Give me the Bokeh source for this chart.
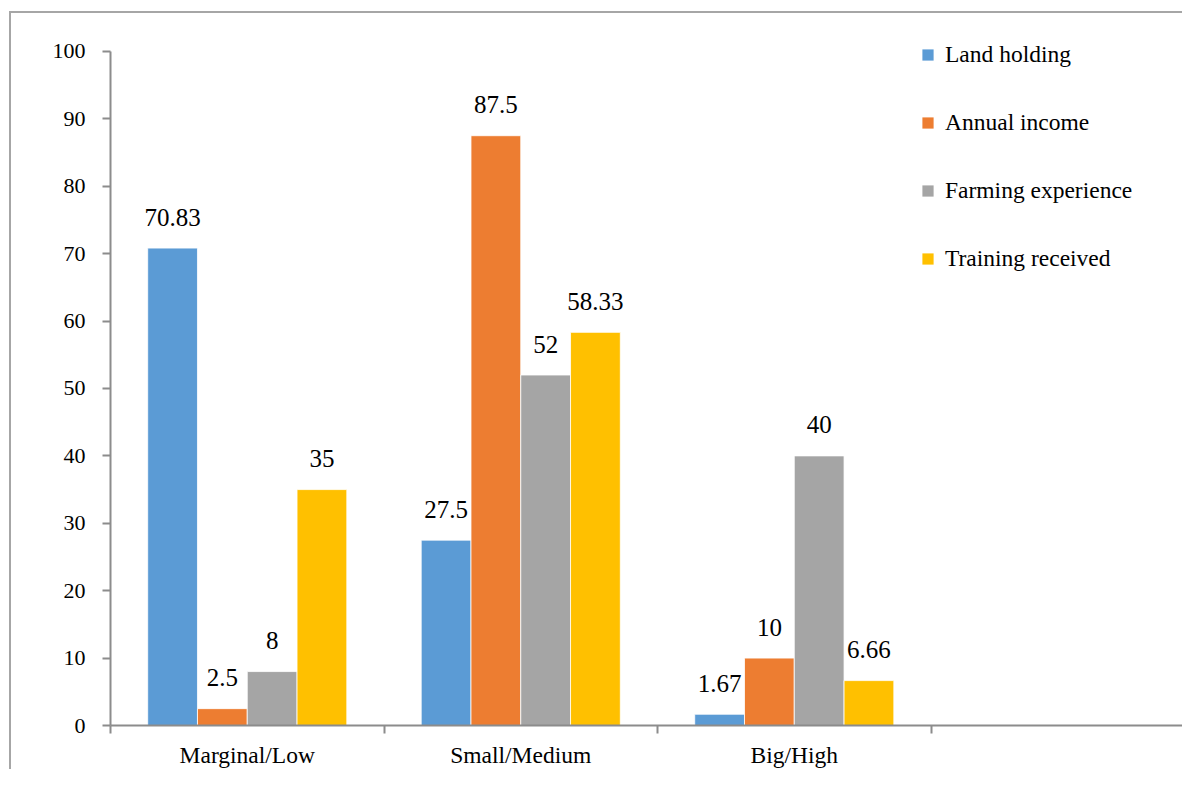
from bokeh.plotting import figure
from bokeh.models import ColumnDataSource, FixedTicker, Legend, LegendItem, Range1d
from bokeh.transform import dodge
from bokeh.embed import file_html
from bokeh.resources import INLINE

categories = ["Marginal/Low", "Small/Medium", "Big/High"]
series_names = ["Land holding", "Annual income", "Farming experience", "Training received"]
land_holding = [70.83, 27.5, 1.67]
annual_income = [2.5, 87.5, 10]
farming_experience = [8, 52, 40]
training_received = [35, 58.33, 6.66]
y_ticks = list(range(0, 101, 10))

series_values = [land_holding, annual_income, farming_experience, training_received]
colors = ["#5B9BD5", "#ED7D31", "#A5A5A5", "#FFC000"]
FONT = "'Liberation Serif', 'Times New Roman', serif"
AXIS_COLOR = "#8c8c8c"

W, H = 1173, 758
n_slots = 1072 / 273.0
p = figure(width=W, height=H,
           x_range=Range1d(0.5, 0.5 + n_slots), y_range=Range1d(0, 104),
           output_backend="svg", toolbar_location=None,
           min_border_left=99, min_border_right=0, min_border_top=11, min_border_bottom=46)
p.margin = (11, 0, 0, 9)
p.styles = {"border-top": "2px solid #a6a6a6", "border-left": "2px solid #a6a6a6"}
p.outline_line_color = None
p.xgrid.visible = False
p.ygrid.visible = False
p.background_fill_color = "white"
p.border_fill_color = "white"

cat_x = [i + 1 for i in range(len(categories))]
bar_w = 0.182
offsets = [(-1.5 + k) * bar_w for k in range(4)]

renderers = []
for k, (name, vals, col) in enumerate(zip(series_names, series_values, colors)):
    src = ColumnDataSource(dict(x=cat_x, v=vals, lab=[f"{v:g}" for v in vals]))
    r = p.vbar(x=dodge("x", offsets[k]), top="v", bottom=0, width=bar_w, source=src,
               fill_color=col, line_color="white", line_width=0.8)
    renderers.append(r)
    p.text(x=dodge("x", offsets[k]), y="v", text="lab", source=src,
           text_align="center", text_baseline="alphabetic", y_offset=-31,
           text_font=FONT, text_font_size="25px", text_color="black")

# x axis
xa = p.xaxis[0]
xa.ticker = FixedTicker(ticks=cat_x, minor_ticks=[c - 0.5 for c in cat_x] + [cat_x[-1] + 0.5])
xa.major_label_overrides = {c: lab for c, lab in zip(cat_x, categories)}
xa.major_tick_out = 0
xa.major_tick_in = 0
xa.minor_tick_out = 8
xa.minor_tick_in = 0
xa.minor_tick_line_color = AXIS_COLOR
xa.minor_tick_line_width = 2
xa.axis_line_color = AXIS_COLOR
xa.axis_line_width = 2
xa.major_label_text_font = FONT
xa.major_label_text_font_size = "23.5px"
xa.major_label_text_color = "black"
xa.major_label_standoff = 8

# y axis
ya = p.yaxis[0]
ya.ticker = FixedTicker(ticks=y_ticks)
ya.bounds = (0, 100)
ya.major_tick_out = 8
ya.major_tick_in = 0
ya.minor_tick_out = 0
ya.minor_tick_in = 0
ya.major_tick_line_color = AXIS_COLOR
ya.major_tick_line_width = 2
ya.axis_line_color = AXIS_COLOR
ya.axis_line_width = 2
ya.major_label_text_font = FONT
ya.major_label_text_font_size = "22px"
ya.major_label_text_color = "black"
ya.major_label_standoff = 17

legend = Legend(items=[LegendItem(label=n, renderers=[r]) for n, r in zip(series_names, renderers)],
                location=(810, 453), orientation="vertical",
                glyph_width=15, glyph_height=15, label_height=27, spacing=41,
                padding=0, margin=0, label_standoff=10,
                border_line_alpha=0, background_fill_alpha=0,
                label_text_font=FONT, label_text_font_size="23.5px", label_text_color="black")
p.add_layout(legend)

open("out.html", "w").write(file_html(p, INLINE))
